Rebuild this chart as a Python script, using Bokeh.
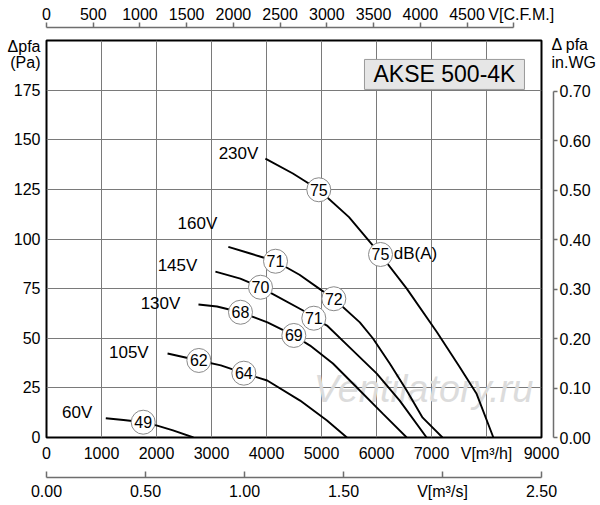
from bokeh.plotting import figure
from bokeh.models import LinearAxis, Range1d, FixedTicker, PrintfTickFormatter
from bokeh.core.properties import value
from bokeh.embed import file_html
from bokeh.resources import INLINE

FONT = "Liberation Sans"

# ---------------- data ----------------
# flow in m3/h, static pressure in Pa
flow_230V = [3980, 4480, 4950, 5500, 6070, 6550, 7100, 7500, 7820, 8125]
pres_230V = [140.5, 133, 124.8, 111, 92.2, 75, 53, 36, 22, 0]

flow_160V = [3306, 3705, 4164, 4600, 5009, 5224, 5697, 5933, 6241, 6549, 6839, 7200]
pres_160V = [96, 92.7, 88.8, 82, 74, 69.9, 58, 50, 37.3, 23.7, 10, 0]

flow_145V = [3071, 3524, 3891, 4067, 4665, 4860, 5100, 5516, 6005, 6422, 6911]
pres_145V = [83.6, 80, 75.7, 73, 64, 60.1, 56.4, 45.3, 32.2, 18.6, 0]

flow_130V = [2763, 3100, 3527, 4018, 4497, 4792, 5208, 5643, 6114, 6549]
pres_130V = [67, 66, 63.1, 58, 51.4, 46.3, 37.3, 25.2, 12, 0]

flow_105V = [2201, 2770, 3170, 3588, 4013, 4611, 5100, 5462]
pres_105V = [42.3, 38.8, 36.3, 32.4, 28.7, 18.6, 8.6, 0]

flow_60V = [1078, 1400, 1758, 2013, 2300, 2672]
pres_60V = [9.7, 8.8, 7.7, 6.0, 3.6, 0]

curves = [
    (flow_230V, pres_230V),
    (flow_160V, pres_160V),
    (flow_145V, pres_145V),
    (flow_130V, pres_130V),
    (flow_105V, pres_105V),
    (flow_60V, pres_60V),
]

# voltage labels and where they sit
volt_text = ["230V", "160V", "145V", "130V", "105V", "60V"]
volt_x = [3491, 2745, 2382, 2073, 1497, 558]
volt_y = [143.1, 107.8, 86.6, 67.5, 43.0, 12.7]

# sound level markers dB(A)
db_flow = [4951, 6073, 4164, 5224, 3891, 4860, 3527, 4497, 2770, 3588, 1758]
db_pres = [124.8, 92.2, 88.8, 69.9, 75.7, 60.1, 63.1, 51.4, 38.8, 32.4, 7.7]
db_text = ["75", "75", "71", "72", "70", "71", "68", "69", "62", "64", "49"]
db_unit_text = ["dB(A)"]
db_unit_x = [6315]
db_unit_y = [92.5]

# axes ticks and texts
flow_ticks = [0, 1000, 2000, 3000, 4000, 5000, 6000, 7000, 8000, 9000]
flow_overrides = {8000: "V[m³/h]"}
pa_ticks = [0, 25, 50, 75, 100, 125, 150, 175, 197, 189]
pa_overrides = {197: "Δpfa", 189: "(Pa)"}
cfm_ticks = [0, 500, 1000, 1500, 2000, 2500, 3000, 3500, 4000, 4500, 5000]
cfm_overrides = {5000: ""}
cfm_name_tick = [5080]
cfm_name = {5080: "V[C.F.M.]"}
ms_ticks = [0, 0.5, 1, 1.5, 2, 2.5]
ms_overrides = {2: "V[m³/s]"}
inwg_ticks = [0, 0.1, 0.2, 0.3, 0.4, 0.5, 0.6, 0.7]
inwg_name_ticks = [198, 189]
inwg_name = {198: "Δ pfa", 189: "in.WG"}
grid_x = [1000, 2000, 3000, 4000, 5000, 6000, 7000, 8000]
grid_y = [25, 50, 75, 100, 125, 150, 175]

title_text = ["AKSE 500-4K"]
title_x = [7236]
title_y = [182.9]

watermark_text = ["Ventilatory.ru"]
watermark_x = [6855]
watermark_y = [24.5]

X_MAX = 9000
Y_MAX = 200
M3H_PER_CFM = 1.69901
PA_PER_INWG = 249.089

# ---------------- figure ----------------
p = figure(width=600, height=505, x_range=Range1d(0, X_MAX), y_range=Range1d(0, Y_MAX),
           output_backend="svg", toolbar_location=None,
           x_axis_location=None, y_axis_location=None,
           min_border_left=46, min_border_right=59, min_border_top=40, min_border_bottom=68)
p.extra_x_ranges = {"cfm": Range1d(0, X_MAX / M3H_PER_CFM), "ms": Range1d(0, X_MAX / 3600)}
p.extra_y_ranges = {"inwg": Range1d(0, Y_MAX / PA_PER_INWG)}
p.background_fill_color = "white"
p.border_fill_color = "white"
p.outline_line_color = "black"
p.outline_line_width = 2

p.xgrid.ticker = FixedTicker(ticks=grid_x)
p.ygrid.ticker = FixedTicker(ticks=grid_y)
for g in (p.xgrid, p.ygrid):
    g.grid_line_color = "#7a7a7a"
    g.grid_line_width = 1


def styled(ax, size="16px"):
    ax.major_label_text_font = FONT
    ax.major_label_text_font_size = size
    ax.major_label_text_color = "black"
    ax.minor_tick_line_color = None
    ax.minor_tick_in = 0
    ax.minor_tick_out = 0
    return ax


def spacer(size, **kw):
    # an axis that only takes room: one invisible tick, no line, no label
    return LinearAxis(ticker=FixedTicker(ticks=[0]), axis_line_color=None,
                      major_tick_line_color="white", major_tick_line_alpha=0.01,
                      minor_tick_line_color=None,
                      major_tick_in=0, major_tick_out=size, minor_tick_in=0, minor_tick_out=0,
                      major_label_text_font_size="1px", major_label_text_color=None,
                      major_label_standoff=0, **kw)


def text_only(ticks, overrides, standoff, **kw):
    return styled(LinearAxis(ticker=FixedTicker(ticks=ticks), major_label_overrides=overrides,
                             axis_line_color=None, major_tick_line_color=None,
                             major_tick_in=0, major_tick_out=0, major_label_standoff=standoff, **kw))


AXIS_GRAY = "#6e6e6e"
AXIS_W = 1.5

# bottom: m3/h axis, spacer, m3/s axis
x_main = styled(LinearAxis(ticker=FixedTicker(ticks=flow_ticks),
                           major_label_overrides=flow_overrides,
                           axis_line_color=None, major_tick_line_color=None,
                           major_tick_in=0, major_tick_out=0, major_label_standoff=7))
p.add_layout(x_main, "below")
p.add_layout(spacer(13), "below")
x_ms = styled(LinearAxis(x_range_name="ms", ticker=FixedTicker(ticks=ms_ticks),
                         formatter=PrintfTickFormatter(format="%.2f"),
                         major_label_overrides=ms_overrides, bounds=(0, 2.5),
                         axis_line_color=AXIS_GRAY, axis_line_width=AXIS_W,
                         major_tick_line_color=AXIS_GRAY, major_tick_line_width=AXIS_W,
                         major_tick_in=6, major_tick_out=0, major_label_standoff=5))
p.add_layout(x_ms, "below")

# left: Pa axis (with its two-line name)
p.add_layout(text_only(pa_ticks, pa_overrides, 6), "left")

# right: spacer + in.WG axis + its name
p.add_layout(spacer(12), "right")
y_in = styled(LinearAxis(y_range_name="inwg", ticker=FixedTicker(ticks=inwg_ticks),
                         formatter=PrintfTickFormatter(format="%.2f"), bounds=(0, 0.7),
                         axis_line_color=AXIS_GRAY, axis_line_width=AXIS_W,
                         major_tick_line_color=AXIS_GRAY, major_tick_line_width=AXIS_W,
                         major_tick_in=0, major_tick_out=4, major_label_standoff=2))
p.add_layout(y_in, "right")
p.add_layout(text_only(inwg_name_ticks, inwg_name, -42), "right")

# top: spacer + CFM axis + its name
p.add_layout(spacer(13), "above")
x_cfm = styled(LinearAxis(x_range_name="cfm", ticker=FixedTicker(ticks=cfm_ticks),
                          major_label_overrides=cfm_overrides, bounds=(0, 5000),
                          axis_line_color=AXIS_GRAY, axis_line_width=AXIS_W,
                          major_tick_line_color=AXIS_GRAY, major_tick_line_width=AXIS_W,
                          major_tick_in=0, major_tick_out=5, major_label_standoff=3))
p.add_layout(x_cfm, "above")
p.add_layout(text_only(cfm_name_tick, cfm_name, -18, x_range_name="cfm"), "above")

# ---------------- marks ----------------
p.text(x=watermark_x, y=watermark_y, text=watermark_text, text_font=value(FONT),
       text_font_size=value("38px"), text_font_style="italic", text_color="#dcdcdc",
       text_align="center", text_baseline="middle")

for fx, fy in curves:
    p.line(fx, fy, line_color="black", line_width=1.9)

p.scatter(db_flow, db_pres, marker="circle", size=24, fill_color="white",
          line_color="#8a8a8a", line_width=1)
p.text(x=db_flow, y=db_pres, text=db_text, text_font=value(FONT), text_font_size=value("16px"),
       text_align="center", text_baseline="middle", text_color="black")
p.text(x=db_unit_x, y=db_unit_y, text=db_unit_text, text_font=value(FONT),
       text_font_size=value("17px"), text_align="left", text_baseline="middle", text_color="black")

p.text(x=volt_x, y=volt_y, text=volt_text, text_font=value(FONT), text_font_size=value("17px"),
       text_align="center", text_baseline="middle", text_color="black")

p.rect(x=title_x, y=title_y, width=160, height=30, width_units="screen", height_units="screen",
       fill_color="#e6e6e6", line_color="#9a9a9a", line_width=1)
p.text(x=title_x, y=title_y, text=title_text, text_font=value(FONT), text_font_size=value("23px"),
       text_align="center", text_baseline="middle", text_color="black")

open("out.html", "w").write(file_html(p, INLINE))
